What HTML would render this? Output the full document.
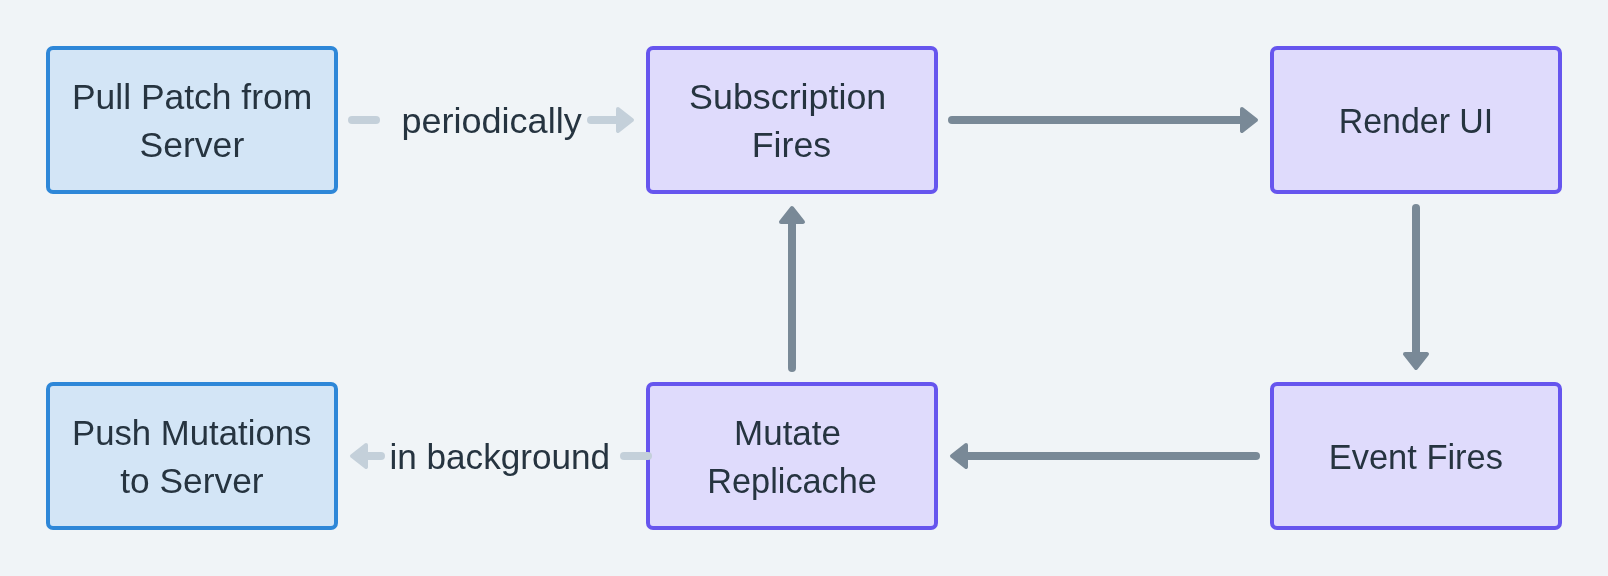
<!DOCTYPE html>
<html><head><meta charset="utf-8"><style>
html,body{margin:0;padding:0;background:#F0F4F7;overflow:hidden}
svg{display:block}
text{will-change:transform}
text{font-family:"Liberation Sans",sans-serif;font-size:35.0px;fill:#263440}
</style></head><body>
<svg width="1608" height="576" viewBox="0 0 1608 576">
<rect x="0" y="0" width="1608" height="576" fill="#F0F4F7"/>
<rect x="48" y="48" width="288" height="144" rx="5" ry="5" fill="#D3E5F6" stroke="#2E87D8" stroke-width="4"/>
<rect x="48" y="384" width="288" height="144" rx="5" ry="5" fill="#D3E5F6" stroke="#2E87D8" stroke-width="4"/>
<rect x="648" y="48" width="288" height="144" rx="5" ry="5" fill="#DFDBFC" stroke="#6655EE" stroke-width="4"/>
<rect x="648" y="384" width="288" height="144" rx="5" ry="5" fill="#DFDBFC" stroke="#6655EE" stroke-width="4"/>
<rect x="1272" y="48" width="288" height="144" rx="5" ry="5" fill="#DFDBFC" stroke="#6655EE" stroke-width="4"/>
<rect x="1272" y="384" width="288" height="144" rx="5" ry="5" fill="#DFDBFC" stroke="#6655EE" stroke-width="4"/>
<line x1="952" y1="120" x2="1244" y2="120" stroke="#798997" stroke-width="8" stroke-linecap="round"/>
<polygon points="1242.00,109.00 1256.00,120.00 1242.00,131.00" fill="#798997" stroke="#798997" stroke-width="4" stroke-linejoin="round"/>
<line x1="1416" y1="208" x2="1416" y2="354" stroke="#798997" stroke-width="8" stroke-linecap="round"/>
<polygon points="1405.00,354.00 1416.00,368.00 1427.00,354.00" fill="#798997" stroke="#798997" stroke-width="4" stroke-linejoin="round"/>
<line x1="1256" y1="456" x2="966" y2="456" stroke="#798997" stroke-width="8" stroke-linecap="round"/>
<polygon points="966.00,445.00 952.00,456.00 966.00,467.00" fill="#798997" stroke="#798997" stroke-width="4" stroke-linejoin="round"/>
<line x1="792" y1="368" x2="792" y2="222" stroke="#798997" stroke-width="8" stroke-linecap="round"/>
<polygon points="781.00,222.00 792.00,208.00 803.00,222.00" fill="#798997" stroke="#798997" stroke-width="4" stroke-linejoin="round"/>
<line x1="352" y1="120" x2="376" y2="120" stroke="#C4D0DA" stroke-width="8" stroke-linecap="round"/>
<line x1="591" y1="120" x2="620" y2="120" stroke="#C4D0DA" stroke-width="8" stroke-linecap="round"/>
<polygon points="618.00,109.00 632.00,120.00 618.00,131.00" fill="#C4D0DA" stroke="#C4D0DA" stroke-width="4" stroke-linejoin="round"/>
<line x1="381" y1="456" x2="366" y2="456" stroke="#C4D0DA" stroke-width="8" stroke-linecap="round"/>
<polygon points="366.00,445.00 352.00,456.00 366.00,467.00" fill="#C4D0DA" stroke="#C4D0DA" stroke-width="4" stroke-linejoin="round"/>
<line x1="624" y1="456" x2="648" y2="456" stroke="#C4D0DA" stroke-width="8" stroke-linecap="round"/>
<text x="71.97" y="109.0" textLength="240.23" lengthAdjust="spacingAndGlyphs">Pull Patch from</text>
<text x="139.52" y="156.8" textLength="104.72" lengthAdjust="spacingAndGlyphs">Server</text>
<text x="689.11" y="109.0" textLength="197.15" lengthAdjust="spacingAndGlyphs">Subscription</text>
<text x="751.74" y="156.8" textLength="79.41" lengthAdjust="spacingAndGlyphs">Fires</text>
<text x="1338.79" y="132.8" textLength="154.48" lengthAdjust="spacingAndGlyphs">Render UI</text>
<text x="72.02" y="445.0" textLength="239.41" lengthAdjust="spacingAndGlyphs">Push Mutations</text>
<text x="120.29" y="492.8" textLength="143.31" lengthAdjust="spacingAndGlyphs">to Server</text>
<text x="734.10" y="445.0" textLength="106.85" lengthAdjust="spacingAndGlyphs">Mutate</text>
<text x="707.26" y="492.8" textLength="169.67" lengthAdjust="spacingAndGlyphs">Replicache</text>
<text x="1328.74" y="468.8" textLength="174.24" lengthAdjust="spacingAndGlyphs">Event Fires</text>
<text x="401.48" y="132.6" textLength="180.21" lengthAdjust="spacingAndGlyphs">periodically</text>
<text x="389.44" y="468.6" textLength="220.65" lengthAdjust="spacingAndGlyphs">in background</text>
</svg>
</body></html>
